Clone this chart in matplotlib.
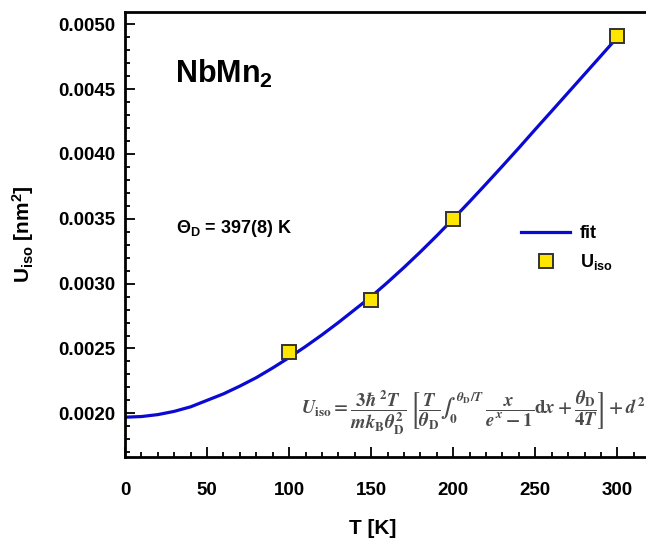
import matplotlib
matplotlib.use("Agg")
import matplotlib.pyplot as plt
from matplotlib.ticker import MultipleLocator, FormatStrFormatter

plt.rcParams['font.family'] = ['Liberation Sans', 'DejaVu Sans']
plt.rcParams['font.weight'] = 'bold'
plt.rcParams['mathtext.fontset'] = 'custom'
plt.rcParams['mathtext.rm'] = 'Liberation Sans:bold'
plt.rcParams['mathtext.it'] = 'Liberation Sans:bold'
plt.rcParams['mathtext.bf'] = 'Liberation Sans:bold'

# measured displacement parameters
T_meas = [100, 150, 200, 300]
U_meas = [0.00247, 0.00287, 0.00350, 0.00491]

# Debye fit curve, every 10 K
T_fit = list(range(0, 310, 10))
U_fit = [0.001970, 0.001975, 0.001990, 0.002015, 0.002050, 0.002100,
         0.002150, 0.002210, 0.002275, 0.002350, 0.002430, 0.002515,
         0.002605, 0.002700, 0.002800, 0.002900, 0.003010, 0.003125,
         0.003245, 0.003370, 0.003500, 0.003633, 0.003769, 0.003907,
         0.004047, 0.004190, 0.004331, 0.004473, 0.004615, 0.004757,
         0.004900]

x_ticks = [0, 50, 100, 150, 200, 250, 300]
y_ticks = [0.0020, 0.0025, 0.0030, 0.0035, 0.0040, 0.0045, 0.0050]

W, H = 646, 541
fig = plt.figure(figsize=(W / 100, H / 100), dpi=100)
ax = fig.add_axes([125 / W, 84 / H, 558 / W, 445 / H])

ax.plot(T_fit, U_fit, color='#0a0ad2', lw=2.3, label='fit', zorder=2)
ax.plot(T_meas, U_meas, ls='none', marker='s', ms=10.5, mfc='#ffe600',
        mec='#333333', mew=1.4, label=r'U$_\mathrm{iso}$', zorder=3)

ax.set_xlim(0, 340)
ax.set_ylim(0.001663, 0.005095)
ax.set_xticks(x_ticks)
ax.set_yticks(y_ticks)
ax.xaxis.set_minor_locator(MultipleLocator(10))
ax.yaxis.set_minor_locator(MultipleLocator(0.0001))
ax.yaxis.set_major_formatter(FormatStrFormatter('%.4f'))
ax.tick_params(which='both', direction='in', width=1.3, labelsize=13.5,
               top=False, right=False)
ax.tick_params(which='major', length=7.5, pad=7)
ax.tick_params(which='minor', length=3.8)
ax.tick_params(axis='x', which='major', pad=18)
for s in ['left', 'bottom', 'top']:
    ax.spines[s].set_linewidth(2)
ax.spines['right'].set_visible(False)

ax.set_xlabel('T [K]', fontsize=15, fontweight='bold')
ax.xaxis.set_label_coords(0.443, -0.14)
ax.set_ylabel(r'U$_\mathrm{iso}$ [nm$^2$]', fontsize=15, fontweight='bold')
ax.yaxis.set_label_coords(-0.16, 0.5)

ax.text(0.0896, 0.840, r'NbMn$_2$', transform=ax.transAxes, fontsize=22,
        fontweight='bold', va='baseline')
ax.text(0.0914, 0.503, r'Θ$_\mathrm{D}$ = 397(8) K', transform=ax.transAxes,
        fontsize=13, fontweight='bold', va='baseline')
ax.text(0.624, 0.099,
        r'$U_\mathrm{iso} = \dfrac{3\hbar^{\,2}T}{mk_\mathrm{B}\theta_\mathrm{D}^2}\;'
        r'\left[\dfrac{T}{\theta_\mathrm{D}}\int_0^{\theta_\mathrm{D}/T}\;'
        r'\dfrac{x}{e^x-1}\mathrm{d}x+\dfrac{\theta_\mathrm{D}}{4T}\right]+d^2$',
        transform=ax.transAxes, fontsize=13.5, fontweight='normal',
        color='#4a4a4a', math_fontfamily='stix', ha='center', va='center')

ax.legend(loc='upper left', bbox_to_anchor=(0.71, 0.521), frameon=False,
          fontsize=13, handlelength=2.7, handletextpad=0.55,
          labelspacing=0.55, borderpad=0, borderaxespad=0)

fig.savefig('out.png', dpi=100)
